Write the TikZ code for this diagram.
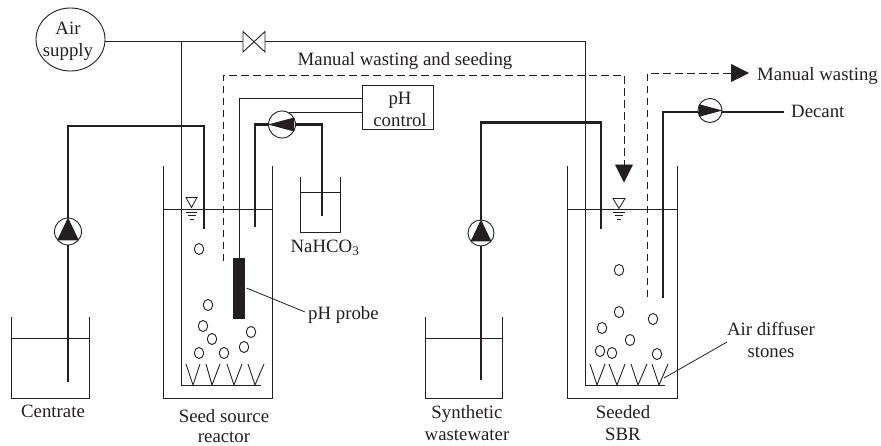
\documentclass[tikz,border=0pt]{standalone}
\usepackage{fontspec}
\setmainfont{Liberation Serif}
\usetikzlibrary{arrows.meta,shapes.geometric}
\definecolor{ink}{HTML}{231F20}
\tikzset{
  thinl/.style={draw=ink,line width=0.9pt},
  thickl/.style={draw=ink,line width=2.3pt},
  dashl/.style={draw=ink,line width=0.9pt,dash pattern=on 7.5pt off 4.5pt},
  bigtip/.style={-{Triangle[length=18pt,width=18pt]}},
  lbl/.style={inner sep=0pt,font=\fontsize{18.8}{22}\selectfont,text=ink,align=center},
  pumpc/.style={circle,draw=ink,line width=0.9pt,fill=white,minimum size=#1,inner sep=0pt},
  pumpc/.default=26pt,
  bubble/.style={ellipse,draw=ink,line width=0.9pt,minimum width=9.5pt,minimum height=11pt,inner sep=0pt}
}
\begin{document}
\begin{tikzpicture}[x=1pt,y=-1pt]
\useasboundingbox (0,0) rectangle (881,445);
% named points
\coordinate (valveL) at (243,41.5);
\coordinate (valveR) at (265,41.5);
\coordinate (airEnd) at (585,41.5);
\coordinate (airCorner) at (585,385);
\coordinate (tee) at (181,41.5);
\coordinate (leftBase) at (181,385);
\coordinate (leftBaseEnd) at (261,385);
\coordinate (rightBaseEnd) at (665,385);
% tanks
\draw[thinl] (163,166) -- (163,398) -- (272.5,398) -- (272.5,166);
\draw[thinl] (163,209) -- (272.5,209);
\draw[thinl] (567,166) -- (567,398) -- (677,398) -- (677,166);
\draw[thinl] (567,209) -- (677,209);
\draw[thinl] (11,317) -- (11,398) -- (89.5,398) -- (89.5,317);
\draw[thinl] (11,338) -- (89.5,338);
\draw[thinl] (425,317) -- (425,398) -- (502,398) -- (502,317);
\draw[thinl] (425,338) -- (502,338);
\draw[thinl] (300.5,177) -- (300.5,232) -- (340,232) -- (340,177);
\draw[thinl] (300.5,192.5) -- (340,192.5);
% nodes
\node[ellipse,draw=ink,line width=0.9pt,minimum width=69pt,minimum height=63pt,inner sep=0pt] (air) at (70.5,39.5) {};
\node[lbl] (airtxt) at (68,41) {Air\\supply};
\node[draw=ink,line width=0.9pt,minimum width=71pt,minimum height=43.5pt,inner sep=0pt] (phbox) at (398,107.2) {};
\node[lbl] (phtxt) at (400,109) {pH\\control};
\node[fill=ink,minimum width=11.5pt,minimum height=61pt,inner sep=0pt] (probe) at (239,288.5) {};
% air lines
\draw[thinl] (air.east |- valveL) -- (valveL);
\draw[thinl] (valveR) -- (airEnd) -- (airCorner);
\draw[thinl] (tee) -- (leftBase) -- (leftBaseEnd);
\draw[thinl] (airCorner) -- (rightBaseEnd);
% valve
\draw[thinl] (243,31.5) -- (265,52) -- (265,31.5) -- (243,52) -- cycle;
% diffusers
\draw[thinl] (186,364)--(193,385)--(200,364) (206,364)--(212,385)--(220,364) (227,364)--(234,385)--(242,364) (248,364)--(255,385)--(264,364);
\draw[thinl] (590,364)--(597,385)--(605,364) (609,364)--(617,385)--(625,364) (631,364)--(638,385)--(647,364) (652,364)--(659,385)--(668,364);
% level marks
\draw[draw=ink,line width=0.8pt,fill=white] (186,197.5)--(197,197.5)--(191.5,207.5)--cycle;
\draw[draw=ink,line width=0.8pt] (186,212.5)--(197,212.5) (187.5,215.5)--(195.5,215.5) (189.5,219.5)--(193.5,219.5);
\draw[draw=ink,line width=0.8pt,fill=white] (613,198.5)--(625,198.5)--(619,208.5)--cycle;
\draw[draw=ink,line width=0.8pt] (613,212.5)--(625,212.5) (615,215.5)--(623,215.5) (617,219.5)--(621,219.5);
% dashed
\coordinate (dashA) at (223,261);
\coordinate (dashB) at (223,75);
\coordinate (dashC) at (624,75);
\coordinate (dashTip) at (624,182.5);
\coordinate (wasteA) at (647,297);
\coordinate (wasteB) at (647,73);
\coordinate (wasteTip) at (749,73);
\draw[dashl,bigtip] (dashA) -- (dashB) -- (dashC) -- (dashTip);
\draw[dashl,bigtip] (wasteA) -- (wasteB) -- (wasteTip);
% pumps
\node[pumpc=27pt] (p1) at (68,231.5) {};
\node[pumpc=27pt] (p2) at (282,124.5) {};
\node[pumpc=26pt] (p3) at (481,233) {};
\node[pumpc=24pt] (p4) at (710,110.5) {};
\coordinate (c1a) at (68,126);
\coordinate (c1b) at (204,126);
\coordinate (c1c) at (204,229);
\coordinate (c1d) at (68,382);
\draw[thickl] (p1.north) -- (c1a) -- (c1b) -- (c1c);
\draw[thickl] (p1.south) -- (c1d);
\coordinate (c2a) at (255,124.5);
\coordinate (c2b) at (255,227);
\coordinate (c2c) at (322,124.5);
\coordinate (c2d) at (322,216);
\draw[thickl] (p2.west) -- (c2a) -- (c2b);
\draw[thickl] (p2.east) -- (c2c) -- (c2d);
\coordinate (c3a) at (481,122.5);
\coordinate (c3b) at (601,122.5);
\coordinate (c3c) at (601,229);
\coordinate (c3d) at (481,380);
\draw[thickl] (p3.north) -- (c3a) -- (c3b) -- (c3c);
\draw[thickl] (p3.south) -- (c3d);
\coordinate (c4a) at (663,112);
\coordinate (c4b) at (663,298);
\coordinate (c4c) at (784,112);
\draw[thickl] (p4.west |- c4a) -- (c4a) -- (c4b);
\draw[draw=ink,line width=1.4pt] (p4.east |- c4c) -- (c4c);
\fill[ink] (p1.90)--(p1.219)--(p1.321)--cycle;
\fill[ink] (p2.180)--(p2.30)--(p2.-30)--cycle;
\fill[ink] (p3.90)--(p3.219)--(p3.321)--cycle;
\fill[ink] (p4.0)--(p4.150)--(p4.210)--cycle;
% pH wiring
\coordinate (w1) at (239,98);
\draw[thinl] (phbox.west |- w1) -- (w1) -- (probe.north);
\draw[thinl] (phbox.west |- p2.60) -- (p2.60);
% bubbles
\foreach \n/\x/\y in {a/199/249,b/208/305,c/203/326,d/212/339,e/251/332,f/244/347,g/199/353,h/224/353,
  i/619/270,j/619/312,k/653/319,l/602/328,m/630/340,n/600/351,o/612/353,q/657/354}
  \node[bubble] (bub\n) at (\x,\y) {};
% leaders
\coordinate (lead1) at (305,312);
\draw[draw=ink,line width=0.8pt] (probe.east |- 0,288) ++(1.5,0) -- (lead1);
\coordinate (lead2a) at (727,342);
\coordinate (lead2b) at (664,378);
\draw[draw=ink,line width=0.8pt] (lead2a) -- (lead2b);
% labels
\node[lbl] (t1) at (405,61.5) {Manual wasting and seeding};
\node[lbl,anchor=west] (t2) at (757,76) {Manual wasting};
\node[lbl,anchor=west] (t3) at (791,111) {Decant};
\node[lbl,anchor=west] (t4) at (308,315) {pH probe};
\node[lbl] (t5) at (325,248) {NaHCO\textsubscript{3}};
\node[lbl] (t6) at (53,411) {Centrate};
\node[lbl] (t7) at (224,426) {Seed source\\[-2pt]reactor};
\node[lbl] (t8) at (467,423) {Synthetic\\wastewater};
\node[lbl] (t9) at (623,423) {Seeded\\SBR};
\node[lbl] (t10) at (771,340) {Air diffuser\\stones};
\end{tikzpicture}
\end{document}
